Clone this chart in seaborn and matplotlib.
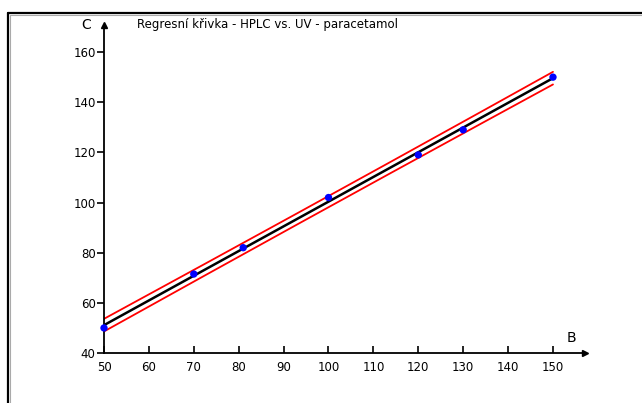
import numpy as np
import pandas as pd
import matplotlib
matplotlib.use("Agg")
import matplotlib.pyplot as plt
import seaborn as sns
from matplotlib.lines import Line2D

# data
B = [50, 70, 81, 100, 120, 130, 150]
C = [50, 71.5, 82, 102, 119, 129, 150]
x_ticks = [50, 60, 70, 80, 90, 100, 110, 120, 130, 140, 150]
y_ticks = [40, 60, 80, 100, 120, 140, 160]
title = "Regresní křivka - HPLC vs. UV - paracetamol"

sns.set_style("ticks")
plt.rcParams["font.family"] = ["DejaVu Sans"]
plt.rcParams["text.color"] = "black"

df = pd.DataFrame({"B": B, "C": C})

# regression fit and band
xb = np.array(B, float)
yc = np.array(C, float)
slope, intercept = np.polyfit(xb, yc, 1)
n = len(xb)
resid = yc - (intercept + slope * xb)
s = np.sqrt(np.sum(resid ** 2) / (n - 2))
sxx = np.sum((xb - xb.mean()) ** 2)
xs = np.linspace(min(B), max(B), 200)
fit = intercept + slope * xs
half = 1.8 * s * np.sqrt(1 + 1 / n + (xs - xb.mean()) ** 2 / sxx)
band = pd.DataFrame({"x": xs, "fit": fit, "lo": fit - half, "hi": fit + half})

fig = plt.figure(figsize=(6.42, 4.03), dpi=100)
ax = fig.add_axes([0.162, 0.124, 0.749, 0.814])

sns.lineplot(data=band, x="x", y="hi", color="red", lw=1.3, ax=ax)
sns.lineplot(data=band, x="x", y="lo", color="red", lw=1.3, ax=ax)
sns.lineplot(data=band, x="x", y="fit", color="black", lw=1.8, ax=ax)
sns.scatterplot(data=df, x="B", y="C", color="blue", s=28, edgecolor="none",
                marker="o", ax=ax, zorder=5, clip_on=False)

ax.set_xlim(50, 157.1)
ax.set_ylim(40, 170.8)
ax.set_xticks(x_ticks)
ax.set_yticks(y_ticks)
ax.set_xlabel("")
ax.set_ylabel("")
for sp in ["top", "right"]:
    ax.spines[sp].set_visible(False)
for sp in ["left", "bottom"]:
    ax.spines[sp].set_linewidth(1.3)
    ax.spines[sp].set_color("black")
ax.tick_params(axis="x", bottom=True, direction="in", length=5, width=1.2,
               labelsize=8.5, pad=6, colors="black")
ax.tick_params(axis="y", left=True, direction="out", length=5, width=1.2,
               labelsize=8.5, pad=1, colors="black")

# axis arrows
ax.plot(1, 0, ">k", transform=ax.transAxes, clip_on=False, ms=5)
ax.plot(0, 1, "^k", transform=ax.transAxes, clip_on=False, ms=5)

ax.text(-0.037, 1.0, "C", transform=ax.transAxes, fontsize=10, ha="center",
        va="center", color="black")
ax.text(0.972, 0.045, "B", transform=ax.transAxes, fontsize=10, ha="center",
        va="center", color="black")
fig.text(0.416, 0.938, title, fontsize=8.5, ha="center", va="center", color="black")

# outer frame
fig.add_artist(Line2D([7.5 / 642, 1], [1 - 13 / 403, 1 - 13 / 403], color="black", lw=1.6))
fig.add_artist(Line2D([7.5 / 642, 7.5 / 642], [0, 1 - 13 / 403], color="black", lw=1.6))
fig.add_artist(Line2D([9.5 / 642, 1], [1 - 15 / 403, 1 - 15 / 403], color="#aaaaaa", lw=0.8))
fig.add_artist(Line2D([9.5 / 642, 9.5 / 642], [0, 1 - 15 / 403], color="#aaaaaa", lw=0.8))

fig.savefig("out.png", dpi=100)
